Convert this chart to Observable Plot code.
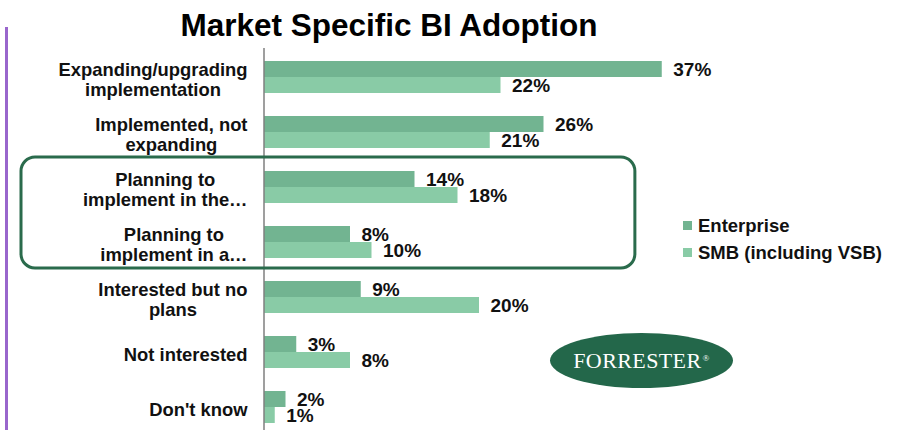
<!DOCTYPE html>
<html><head><meta charset="utf-8">
<script src="https://cdn.jsdelivr.net/npm/d3@7"></script>
<script src="https://cdn.jsdelivr.net/npm/@observablehq/plot@0.6"></script>
<style>
html,body{margin:0;padding:0;overflow:hidden;background:#fff;}
#wrap{position:relative;width:909px;height:430px;font-family:"Liberation Sans",Arial,sans-serif;}
#title{position:absolute;left:0;top:0;width:778px;height:46px;box-sizing:border-box;padding-top:5px;line-height:40px;font-size:31.5px;font-weight:bold;color:#000;text-align:center;}
#chart{position:absolute;left:0;top:46px;}
#bar{position:absolute;left:5px;top:27px;width:3px;height:403px;background:#9966cc;}
#legend{position:absolute;left:683px;top:212px;font-size:18.5px;font-weight:bold;color:#111;}
#legend .row{display:flex;align-items:center;height:27px;line-height:27px;white-space:nowrap;}
#legend .sw{display:inline-block;width:9px;height:9px;margin-right:6px;}
#logo{position:absolute;left:550px;top:333px;width:183px;height:55px;border-radius:50%;background:#23674a;color:#fff;display:flex;align-items:center;justify-content:center;font-family:"Liberation Serif","DejaVu Serif",serif;font-size:22px;letter-spacing:0.4px;}
#logo sup{font-size:9px;margin-left:1px;position:relative;top:-3px;}
</style>
</head><body>
<div id="wrap">
  <div id="bar"></div>
  <div id="title">Market Specific BI Adoption</div>
  <div id="chart"></div>
  <div id="legend"></div>
  <div id="logo">FORRESTER<sup>®</sup></div>
</div>
<script>
const categories = [
  "Expanding/upgrading\nimplementation",
  "Implemented, not\nexpanding",
  "Planning to\nimplement in the…",
  "Planning to\nimplement in a…",
  "Interested but no\nplans",
  "Not interested",
  "Don't know"
];
const series = ["Enterprise", "SMB (including VSB)"];
const enterprise = [37, 26, 14, 8, 9, 3, 2];
const smb = [22, 21, 18, 10, 20, 8, 1];
const colors = ["#72b491", "#89cba6"];
const highlighted = [2, 3];

const data = categories.flatMap((c, i) => [
  {category: c, series: series[0], value: enterprise[i]},
  {category: c, series: series[1], value: smb[i]}
]);

const chart = Plot.plot({
  width: 909,
  height: 390,
  marginTop: 2,
  marginBottom: 0,
  marginLeft: 264,
  marginRight: 0,
  style: {fontFamily: "Liberation Sans, Arial, sans-serif", fontWeight: "bold", fontSize: "18px", color: "#111", background: "transparent", overflow: "visible"},
  x: {domain: [0, 60], axis: null},
  y: {domain: series, axis: null, padding: 0},
  fy: {domain: categories, paddingInner: 0.42, paddingOuter: 0.217, label: null},
  color: {domain: series, range: colors},
  marks: [
    Plot.barX(data, {fy: "category", y: "series", x: "value", fill: "series"}),
    Plot.text(data, {fy: "category", y: "series", x: "value", text: d => d.value + "%", textAnchor: "start", dx: 11, fill: "#111", fontSize: 19}),
    Plot.axisFy({anchor: "left", tickSize: 0, tickPadding: 17, label: null, lineHeight: 1.07, fontSize: 18.4, dy: 2, fill: "#111"})
  ]
});
document.getElementById("chart").appendChild(chart);

// center each line of multi-line category labels within its right-aligned block
d3.select(chart).selectAll("g[aria-label='fy-axis tick label'] text").each(function() {
  const tspans = d3.select(this).selectAll("tspan");
  if (tspans.size() > 1) {
    let w = 0;
    tspans.each(function() { w = Math.max(w, this.getComputedTextLength()); });
    d3.select(this).attr("text-anchor", "middle");
    tspans.attr("x", -w / 2);
  }
});

const xs = chart.scale("x"), fys = chart.scale("fy");
const svg = d3.select(chart);
// axis line
svg.append("line")
  .attr("x1", xs.apply(0)).attr("x2", xs.apply(0))
  .attr("y1", fys.range[0]).attr("y2", 400)
  .attr("stroke", "#7f7f7f").attr("stroke-width", 1.5);
// highlight box around planning categories
const y0 = fys.apply(categories[highlighted[0]]) - 14;
const y1 = fys.apply(categories[highlighted[1]]) + fys.bandwidth + 10;
svg.append("rect")
  .attr("x", 21).attr("y", y0)
  .attr("width", xs.apply(34.5) - 21).attr("height", y1 - y0)
  .attr("rx", 14).attr("ry", 14)
  .attr("fill", "none").attr("stroke", "#2a6b4c").attr("stroke-width", 3);

// legend
const lg = d3.select("#legend");
series.forEach((s, i) => {
  const r = lg.append("div").attr("class", "row");
  r.append("span").attr("class", "sw").style("background", colors[i]);
  r.append("span").text(s);
});
</script>
</body></html>
